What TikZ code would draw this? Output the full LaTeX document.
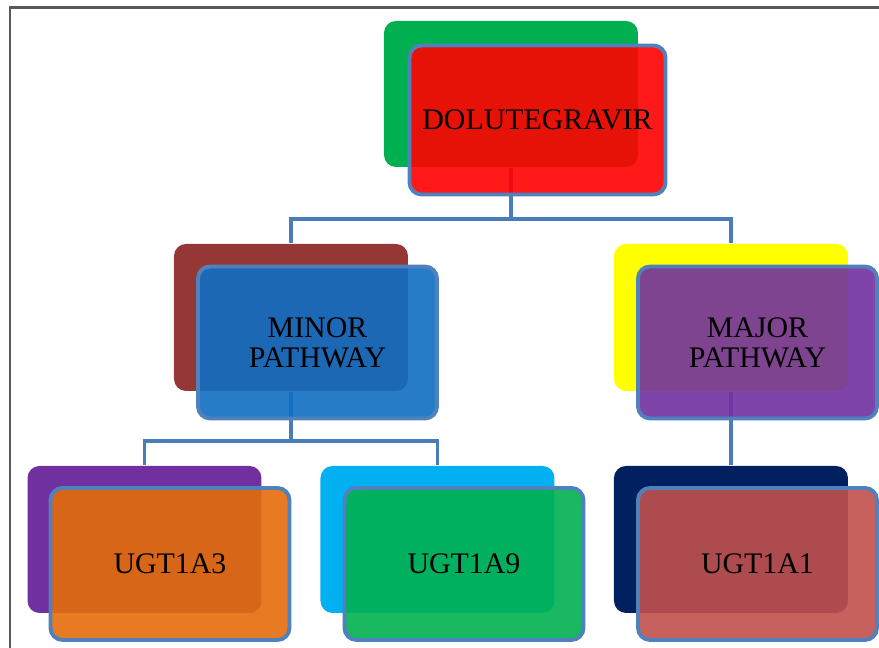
\documentclass[tikz,border=0pt]{standalone}
\usepackage{fontspec}
\setmainfont{Liberation Serif}

\definecolor{frameblue}{HTML}{4F81BD}
\definecolor{linkblue}{HTML}{4A7DB8}
\definecolor{boxgreen}{HTML}{00B050}
\definecolor{boxred}{HTML}{FF0000}
\definecolor{boxmaroon}{HTML}{953735}
\definecolor{boxblue}{HTML}{0F6EC2}
\definecolor{boxyellow}{HTML}{FFFF00}
\definecolor{boxpurple}{HTML}{7030A0}
\definecolor{boxorange}{HTML}{E46C0A}
\definecolor{boxcyan}{HTML}{00B0F0}
\definecolor{boxnavy}{HTML}{002060}
\definecolor{boxbrick}{HTML}{C0504D}

\begin{document}
\begin{tikzpicture}[
    back/.style={rounded corners=0.12cm, inner sep=0pt, minimum width=2.34cm, minimum height=1.47cm},
    front/.style={rounded corners=0.12cm, inner sep=0pt, draw=frameblue, line width=1.1pt,
        fill opacity=0.9, text opacity=1, minimum width=2.39cm, minimum height=1.52cm,
        align=center, font=\fontsize{8.5}{8.6}\selectfont},
    link/.style={draw=linkblue, line width=1.1pt}]
    \useasboundingbox (0,0) rectangle (8.79,-6.48);

    % frame
    \draw[black!65, line width=0.6pt] (0.1,-6.48) -- (0.1,-0.075) -- (8.79,-0.075);

    % back boxes
    \node[back, fill=boxgreen, minimum width=2.54cm, minimum height=1.46cm] (drugback) at (5.11,-0.94) {};
    \node[back, fill=boxmaroon] (minorback) at (2.91,-3.175) {};
    \node[back, fill=boxyellow] (majorback) at (7.31,-3.175) {};
    \node[back, fill=boxpurple] (ugtaback) at (1.445,-5.395) {};
    \node[back, fill=boxcyan] (ugtbback) at (4.375,-5.395) {};
    \node[back, fill=boxnavy] (ugtcback) at (7.31,-5.395) {};

    % connectors
    \draw[link] (drugback.south) -- ++(0,-0.51) -| (minorback.north);
    \draw[link] (drugback.south) -- ++(0,-0.51) -| (majorback.north);
    \draw[link] (minorback.south) -- ++(0,-0.49) -| (ugtaback.north);
    \draw[link] (minorback.south) -- ++(0,-0.49) -| (ugtbback.north);
    \draw[link] (majorback.south) -- (ugtcback.north);

    % front boxes
    \node[front, fill=boxred, minimum width=2.56cm, minimum height=1.49cm] (drug) at (5.375,-1.2) {DOLUTEGRAVIR};
    \node[front, fill=boxblue] (minor) at (3.175,-3.425) {MINOR\\PATHWAY};
    \node[front, fill=boxpurple] (major) at (7.575,-3.425) {MAJOR\\PATHWAY};
    \node[front, fill=boxorange] (ugta) at (1.70,-5.64) {UGT1A3};
    \node[front, fill=boxgreen] (ugtb) at (4.64,-5.64) {UGT1A9};
    \node[front, fill=boxbrick] (ugtc) at (7.575,-5.64) {UGT1A1};
\end{tikzpicture}
\end{document}
